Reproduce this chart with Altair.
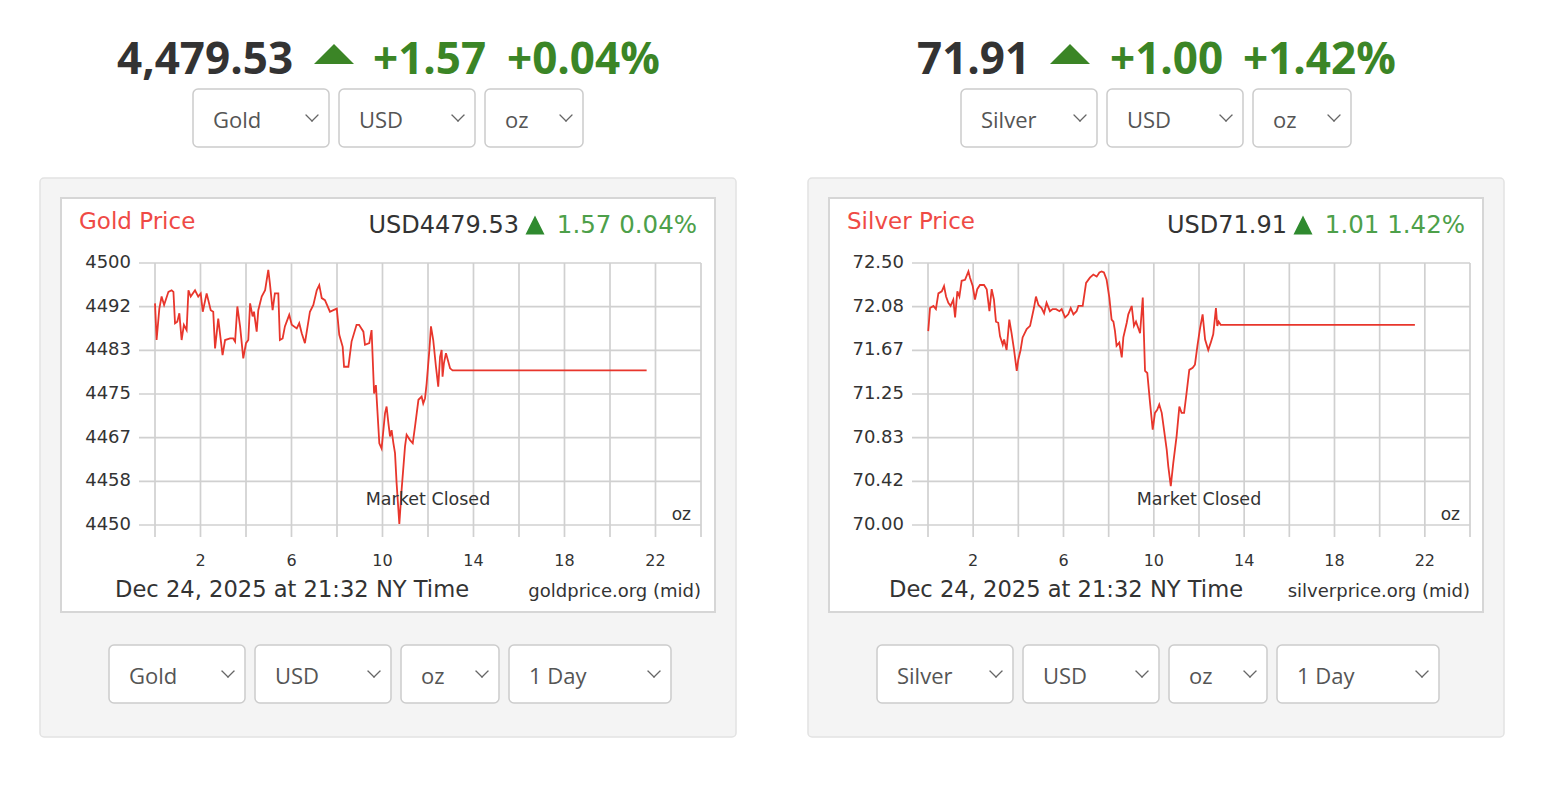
import altair as alt
import pandas as pd

# ---------------- data ----------------
GOLD_HOURS = [0.00,0.07,0.19,0.29,0.40,0.59,0.73,0.81,0.88,0.98,
              1.07,1.17,1.27,1.39,1.47,1.57,1.76,1.90,2.01,2.10,
              2.27,2.45,2.56,2.64,2.78,2.97,3.08,3.30,3.44,3.52,
              3.62,3.74,3.88,4.00,4.10,4.18,4.29,4.35,4.47,4.54,
              4.69,4.84,4.98,5.05,5.17,5.27,5.42,5.49,5.61,5.71,
              5.90,6.01,6.23,6.34,6.45,6.59,6.81,6.96,7.11,7.22,
              7.33,7.47,7.69,7.84,7.99,8.10,8.25,8.31,8.50,8.64,
              8.86,8.97,9.16,9.23,9.42,9.52,9.63,9.71,9.86,9.96,
              10.11,10.18,10.26,10.33,10.40,10.48,10.55,10.62,10.74,10.84,
              10.99,11.06,11.21,11.33,11.43,11.58,11.72,11.79,11.87,11.94,
              12.06,12.13,12.23,12.35,12.45,12.53,12.60,12.64,12.70,12.79,
              12.97,13.08,21.61]
GOLD_PRICES = [4492.3,4485.3,4491.3,4493.6,4492.0,4494.5,4494.8,4494.5,4488.5,4488.8,
               4490.4,4485.3,4488.2,4487.2,4494.8,4493.6,4494.8,4493.6,4494.2,4490.7,
               4494.2,4491.0,4490.7,4483.7,4489.4,4482.4,4485.3,4485.6,4485.6,4485.0,
               4491.7,4487.9,4481.8,4484.7,4485.3,4492.3,4489.8,4490.7,4486.9,4491.0,
               4493.6,4494.8,4498.7,4496.1,4491.0,4494.2,4494.2,4485.3,4485.6,4487.9,
               4490.1,4488.2,4487.5,4488.5,4486.6,4484.7,4490.7,4492.0,4494.8,4495.8,
               4493.3,4492.9,4490.7,4491.0,4491.3,4486.3,4484.0,4480.2,4480.2,4485.0,
               4488.2,4488.2,4486.9,4484.4,4484.7,4487.2,4475.1,4476.7,4465.6,4464.6,
               4471.3,4472.6,4469.4,4466.9,4468.1,4465.6,4463.7,4458.0,4450.2,4456.7,
               4465.0,4467.2,4466.2,4465.6,4468.8,4473.9,4474.5,4473.2,4474.2,4477.0,
               4483.4,4487.9,4485.3,4480.2,4476.4,4482.1,4483.4,4478.3,4480.9,4482.8,
               4479.9,4479.5,4479.5]

SILVER_HOURS = [0.01,0.09,0.24,0.35,0.46,0.61,0.71,0.80,0.90,1.00,
                1.12,1.20,1.30,1.39,1.49,1.64,1.79,1.86,1.98,2.08,
                2.18,2.30,2.48,2.60,2.72,2.82,2.92,3.01,3.11,3.19,
                3.31,3.37,3.48,3.60,3.70,3.81,3.93,4.00,4.10,4.19,
                4.37,4.52,4.69,4.78,4.89,5.03,5.14,5.25,5.40,5.52,
                5.67,5.82,5.92,6.07,6.21,6.32,6.44,6.58,6.66,6.85,
                7.00,7.17,7.32,7.47,7.59,7.69,7.79,7.91,8.03,8.13,
                8.21,8.28,8.35,8.47,8.58,8.65,8.80,8.87,9.02,9.12,
                9.21,9.31,9.39,9.51,9.61,9.71,9.83,9.95,10.05,10.15,
                10.24,10.35,10.45,10.57,10.64,10.75,10.86,11.01,11.13,11.23,
                11.34,11.45,11.57,11.72,11.82,11.93,12.04,12.16,12.27,12.41,
                12.52,12.63,12.75,12.81,12.87,12.96,21.56]
SILVER_PRICES = [71.85,72.07,72.09,72.06,72.21,72.23,72.28,72.18,72.12,72.09,
                 72.15,71.98,72.23,72.18,72.33,72.34,72.42,72.36,72.28,72.15,
                 72.25,72.29,72.29,72.25,72.04,72.25,72.15,71.94,71.93,71.80,
                 71.72,71.77,71.67,71.96,71.83,71.67,71.47,71.58,71.67,71.79,
                 71.87,71.90,72.07,72.18,72.10,72.07,72.02,72.12,72.04,72.06,
                 72.06,72.04,72.06,71.98,72.01,72.07,72.01,72.04,72.09,72.09,
                 72.31,72.36,72.39,72.37,72.41,72.42,72.41,72.34,72.17,71.96,
                 71.94,71.85,71.71,71.74,71.60,71.79,71.93,72.01,72.09,71.90,
                 71.94,71.88,71.83,72.17,71.47,71.45,71.17,70.91,71.07,71.10,
                 71.15,71.07,70.91,70.72,70.56,70.37,70.59,70.85,71.13,71.07,
                 71.07,71.26,71.48,71.50,71.53,71.71,71.87,72.01,71.77,71.67,
                 71.74,71.82,72.07,71.90,71.94,71.91,71.91]

GOLD_Y_TICKS = [4450, 4458.33, 4466.67, 4475, 4483.33, 4491.67, 4500]
GOLD_Y_LABELS = ["4450", "4458", "4467", "4475", "4483", "4492", "4500"]
SILVER_Y_TICKS = [70.0, 70.4167, 70.8333, 71.25, 71.6667, 72.0833, 72.5]
SILVER_Y_LABELS = ["70.00", "70.42", "70.83", "71.25", "71.67", "72.08", "72.50"]
HOUR_GRID = [0, 2, 4, 6, 8, 10, 12, 14, 16, 18, 20, 22, 24]
HOUR_LABELS = [2, 6, 10, 14, 18, 22]

GOLD_HEADER = ["4,479.53", "+1.57", "+0.04%"]
SILVER_HEADER = ["71.91", "+1.00", "+1.42%"]
GOLD_CHART_HEAD = ["Gold Price", "USD4479.53", "1.57 0.04%"]
SILVER_CHART_HEAD = ["Silver Price", "USD71.91", "1.01 1.42%"]

# ---------------- styles ----------------
M = 8  # page margin
DARK = "#333333"
GREEN = "#3b8526"
GREEN_LIGHT = "#4da04a"
RED_TITLE = "#ef4a45"
RED_LINE = "#e8362c"
GRID = "#d0d0d0"
SANS = "Open Sans"
CHART_FONT = "DejaVu Sans"
ONE = alt.Data(values=[{"k": 0}])


def box(x1, y1, x2, y2, fill, stroke, sw=1.0, r=0):
    return alt.Chart(ONE).mark_rect(fill=fill, stroke=stroke, strokeWidth=sw, cornerRadius=r).encode(
        x=alt.value(x1 - M), x2=alt.value(x2 - M), y=alt.value(y1 - M), y2=alt.value(y2 - M))


def label(s, x, y, size, color, font=CHART_FONT, weight="normal", align="left", baseline="alphabetic"):
    return alt.Chart(ONE).mark_text(text=s, font=font, fontSize=size, fontWeight=weight, color=color,
                                    align=align, baseline=baseline).encode(
        x=alt.value(x - M), y=alt.value(y - M))


def seg(x1, y1, x2, y2, color="#666666", sw=1.3):
    return alt.Chart(ONE).mark_rule(color=color, strokeWidth=sw, strokeCap="round").encode(
        x=alt.value(x1 - M), y=alt.value(y1 - M), x2=alt.value(x2 - M), y2=alt.value(y2 - M))


def tri(cx, cy, w, color, flat=True):
    shape = "M-1,0.5L1,0.5L0,-0.5Z" if flat else "M-1,1L1,1L0,-1Z"
    return alt.Chart(ONE).mark_point(shape=shape, size=w * w, filled=True, color=color, opacity=1,
                                     strokeWidth=0).encode(x=alt.value(cx - M), y=alt.value(cy - M))


def dropdown(x1, x2, y1, y2, text):
    cy = (y1 + y2) / 2
    cx = x2 - 17
    return [box(x1, y1, x2, y2, "white", "#cccccc", 1.5, 5),
            label(text, x1 + 20, cy + 9.5, 22, "#555555", font=SANS),
            seg(cx - 6, cy - 3, cx, cy + 3),
            seg(cx, cy + 3, cx + 6, cy - 3)]


def price_panel(hours, prices, yticks, ylabels, ydom, xl, xr, yt, yb):
    xs = alt.Scale(domain=[0, 24], range=[xl - M, xr - M], zero=False, nice=False)
    ys = alt.Scale(domain=ydom, range=[yb - M, yt - M], zero=False, nice=False)
    line_df = pd.DataFrame({"hour": hours, "price": prices})
    ytick_df = pd.DataFrame({"price": yticks, "lab": ylabels})
    grid_df = pd.DataFrame({"hour": HOUR_GRID})
    xlab_df = pd.DataFrame({"hour": HOUR_LABELS, "lab": [str(h) for h in HOUR_LABELS]})
    hgrid = alt.Chart(ytick_df).mark_rule(color=GRID, strokeWidth=1.7).encode(
        y=alt.Y("price:Q", scale=ys, axis=None), x=alt.value(xl - 16 - M), x2=alt.value(xr - M))
    vgrid = alt.Chart(grid_df).mark_rule(color=GRID, strokeWidth=1.7).encode(
        x=alt.X("hour:Q", scale=xs, axis=None), y=alt.value(yt - M), y2=alt.value(yb + 12 - M))
    ylab = alt.Chart(ytick_df).mark_text(align="right", baseline="middle", font=CHART_FONT,
                                         fontSize=18, color=DARK).encode(
        y=alt.Y("price:Q", scale=ys, axis=None), x=alt.value(xl - 24 - M), text="lab:N")
    xlab = alt.Chart(xlab_df).mark_text(align="center", baseline="middle", font=CHART_FONT,
                                        fontSize=16, color=DARK).encode(
        x=alt.X("hour:Q", scale=xs, axis=None), y=alt.value(561 - M), text="lab:N")
    line = alt.Chart(line_df).mark_line(color=RED_LINE, strokeWidth=1.8).encode(
        x=alt.X("hour:Q", scale=xs, axis=None), y=alt.Y("price:Q", scale=ys, axis=None))
    return alt.layer(hgrid, vgrid, ylab, xlab, line)


def side(dx, header, hx, trix, metal, chart_head, head_x, plot, hours, prices, yticks, ylabels, ydom,
         site, footer_x):
    layers = []
    # big header
    layers.append(label(header[0], hx[0], 74, 44, DARK, font=SANS, weight="bold"))
    layers.append(tri(trix, 54, 40, GREEN))
    layers.append(label(header[1], hx[1], 74, 44, GREEN, font=SANS, weight="bold"))
    layers.append(label(header[2], hx[2], 74, 44, GREEN, font=SANS, weight="bold"))
    # top dropdowns
    x0 = 193 + dx
    layers += dropdown(x0, x0 + 136, 89, 147, metal)
    layers += dropdown(x0 + 146, x0 + 282, 89, 147, "USD")
    layers += dropdown(x0 + 292, x0 + 390, 89, 147, "oz")
    # panel
    layers.append(box(40 + dx, 178, 736 + dx, 737, "#f4f4f4", "#e2e2e2", 1.5, 4))
    layers.append(box(61 + dx, 198, 715 + dx, 612, "white", "#d6d6d6", 2, 0))
    # chart head
    layers.append(label(chart_head[0], 79 + dx, 229, 23, RED_TITLE))
    layers.append(label(chart_head[1], head_x[0], 233, 24, DARK, align="right"))
    layers.append(tri(head_x[1], 225, 19, "#2f8a2f", flat=False))
    layers.append(label(chart_head[2], 697 + dx, 233, 24.5, GREEN_LIGHT, align="right"))
    # plot
    xl, xr = plot
    layers.append(price_panel(hours, prices, yticks, ylabels, ydom, xl, xr, 263, 525))
    layers.append(label("Market Closed", (xl + xr) / 2, 500, 17.5, DARK, align="center", baseline="middle"))
    layers.append(label("oz", xr - 10, 515, 17, DARK, align="right", baseline="middle"))
    # footer
    layers.append(label("Dec 24, 2025 at 21:32 NY Time", footer_x, 597, 22.6, DARK))
    layers.append(label(site, xr, 597, 18, DARK, align="right"))
    # bottom dropdowns
    b0 = 109 + dx
    layers += dropdown(b0, b0 + 136, 645, 703, metal)
    layers += dropdown(b0 + 146, b0 + 282, 645, 703, "USD")
    layers += dropdown(b0 + 292, b0 + 390, 645, 703, "oz")
    layers += dropdown(b0 + 400, b0 + 562, 645, 703, "1 Day")
    return layers


gold_layers = side(0, GOLD_HEADER, [117, 373, 507], 334, "Gold", GOLD_CHART_HEAD, [519, 535],
                   (155, 701), GOLD_HOURS, GOLD_PRICES, GOLD_Y_TICKS, GOLD_Y_LABELS, [4450, 4500],
                   "goldprice.org (mid)", 115)
silver_layers = side(768, SILVER_HEADER, [917, 1110, 1243], 1070, "Silver", SILVER_CHART_HEAD, [1287, 1303],
                     (928, 1470), SILVER_HOURS, SILVER_PRICES, SILVER_Y_TICKS, SILVER_Y_LABELS, [70.0, 72.5],
                     "silverprice.org (mid)", 889)

chart = alt.layer(*gold_layers, *silver_layers).resolve_scale(
    x="independent", y="independent"
).properties(
    width=1550, height=782, padding=0,
    autosize=alt.AutoSizeParams(type="none"),
    background="white",
).configure_view(stroke=None)

chart.save("out.html", embed_options={"renderer": "svg", "actions": False})
